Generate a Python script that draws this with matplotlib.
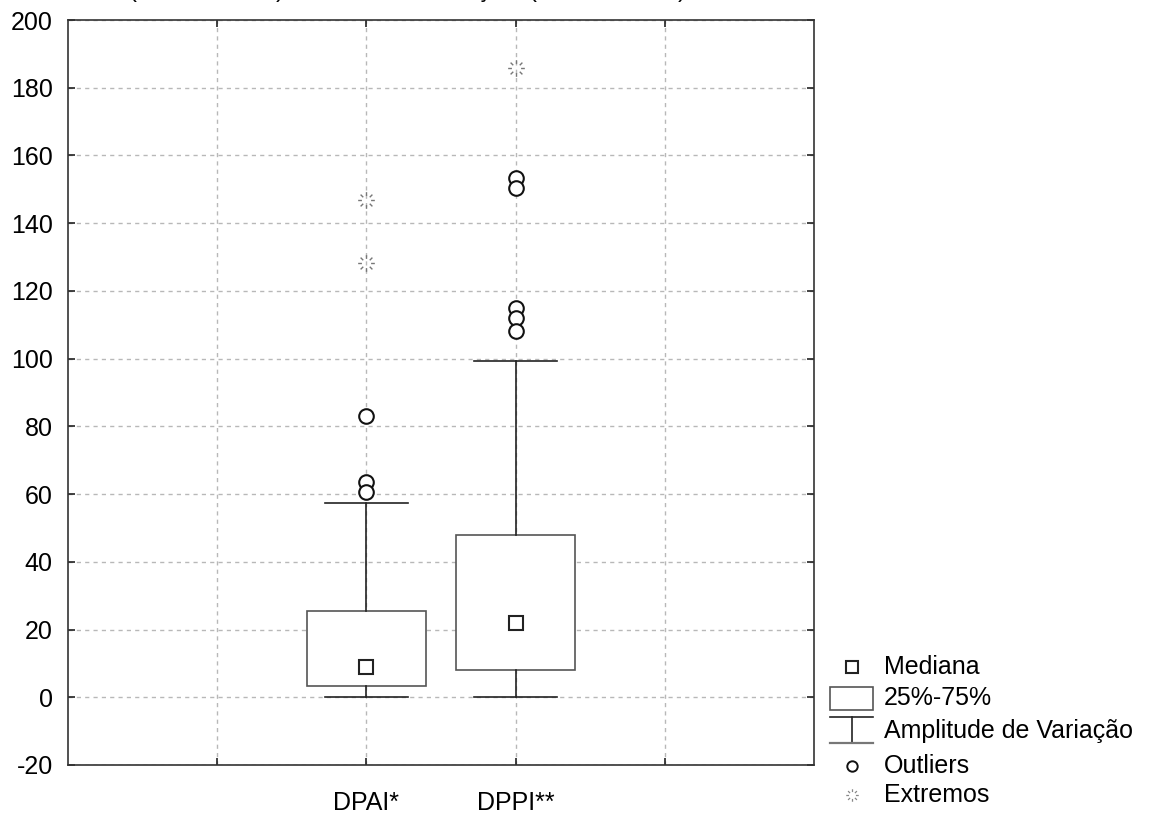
import matplotlib.pyplot as plt
from matplotlib.path import Path
import numpy as np

plt.rcParams['font.family'] = ['Liberation Sans', 'DejaVu Sans']
plt.rcParams['axes.unicode_minus'] = False

# Estatísticas dos dois grupos
categorias = ['DPAI*', 'DPPI**']
posicoes = [2, 3]
minimo = [0.0, 0.0]
q1 = [3.2, 8.0]
mediana = [9.0, 22.0]
q3 = [25.5, 48.0]
maximo = [57.5, 99.2]
outliers = [[83.0, 63.5, 60.5], [153.3, 150.3, 114.9, 111.9, 108.1]]
extremos = [[146.8, 128.2], [185.8]]

W, H = 1149, 817
fig = plt.figure(figsize=(W / 100, H / 100), dpi=100)
ax = fig.add_axes([68 / W, 1 - 765 / H, (814 - 68) / W, (765 - 20) / H])

# marcador dos extremos: oito tracinhos em volta de um centro vazio
ang = np.linspace(0, 2 * np.pi, 8, endpoint=False)
verts, codes = [], []
for a in ang:
    verts += [(0.55 * np.cos(a), 0.55 * np.sin(a)), (np.cos(a), np.sin(a))]
    codes += [Path.MOVETO, Path.LINETO]
marca_extremo = Path(verts, codes)

stats = []
for i in range(len(categorias)):
    stats.append({'med': mediana[i], 'q1': q1[i], 'q3': q3[i],
                  'whislo': minimo[i], 'whishi': maximo[i], 'fliers': []})

ax.bxp(stats, positions=posicoes, widths=0.8, showfliers=False,
       patch_artist=True,
       boxprops=dict(facecolor='white', edgecolor='#555555', linewidth=1.2),
       whiskerprops=dict(color='#222222', linewidth=1.2),
       capprops=dict(color='#222222', linewidth=1.2),
       capwidths=0.56,
       medianprops=dict(linewidth=0), zorder=3)

ax.plot(posicoes, mediana, 's', ms=9.5, mfc='white', mec='#222222', mew=1.5,
        ls='none', zorder=4)
for p, vals in zip(posicoes, outliers):
    ax.plot([p] * len(vals), vals, 'o', ms=10.5, mfc='white', mec='#111111',
            mew=1.5, ls='none', zorder=4)
for p, vals in zip(posicoes, extremos):
    ax.plot([p] * len(vals), vals, marker=marca_extremo, ms=12, mec='#777777',
            mew=1.0, ls='none', zorder=4)

ax.set_xlim(0, 5)
ax.set_ylim(-20, 200)
ax.set_xticks([1, 2, 3, 4], ['', categorias[0], categorias[1], ''])
ax.set_yticks(np.arange(-20, 201, 20))
ax.tick_params(axis='both', direction='in', length=5, width=1.2, color='#222222',
               top=True, right=True, labelsize=18)
ax.tick_params(axis='x', pad=19)
ax.tick_params(axis='y', pad=11)
ax.grid(True, color='#b8b8b8', linestyle=(0, (3, 3)), linewidth=1.0)
ax.set_axisbelow(True)
for s in ax.spines.values():
    s.set_color('#333333')
    s.set_linewidth(1.2)

# título cortado no topo: só os descendentes aparecem
for xp, ch in [(133, '('), (280, ')'), (483, 'ç'), (532, '('), (682, ')')]:
    fig.text(xp / W, 1 + 3 / H, ch, fontsize=17, ha='center', va='baseline')

# legenda desenhada à parte, em coordenadas de pixel
lax = fig.add_axes([0, 0, 1, 1], facecolor='none')
lax.set_xlim(0, W)
lax.set_ylim(H, 0)
lax.axis('off')
lax.plot([852], [667], 's', ms=9, mfc='white', mec='#222222', mew=1.5)
lax.add_patch(plt.Rectangle((830, 687), 43, 23, facecolor='white',
                            edgecolor='#555555', linewidth=1.2))
lax.plot([830, 873], [717, 717], color='#222222', lw=1.2)
lax.plot([852, 852], [717, 743], color='#222222', lw=1.2)
lax.plot([830, 873], [743, 743], color='#777777', lw=1.6)
lax.plot([852], [766], 'o', ms=7.5, mfc='white', mec='#111111', mew=1.4)
lax.plot([852], [795], marker=marca_extremo, ms=9, mec='#888888', mew=0.9)
rotulos = ['Mediana', '25%-75%', 'Amplitude de Variação', 'Outliers', 'Extremos']
for y, r in zip([667, 698, 731, 766, 795], rotulos):
    lax.text(884, y, r, fontsize=18, va='center', ha='left')

fig.savefig('out.png', dpi=100)
